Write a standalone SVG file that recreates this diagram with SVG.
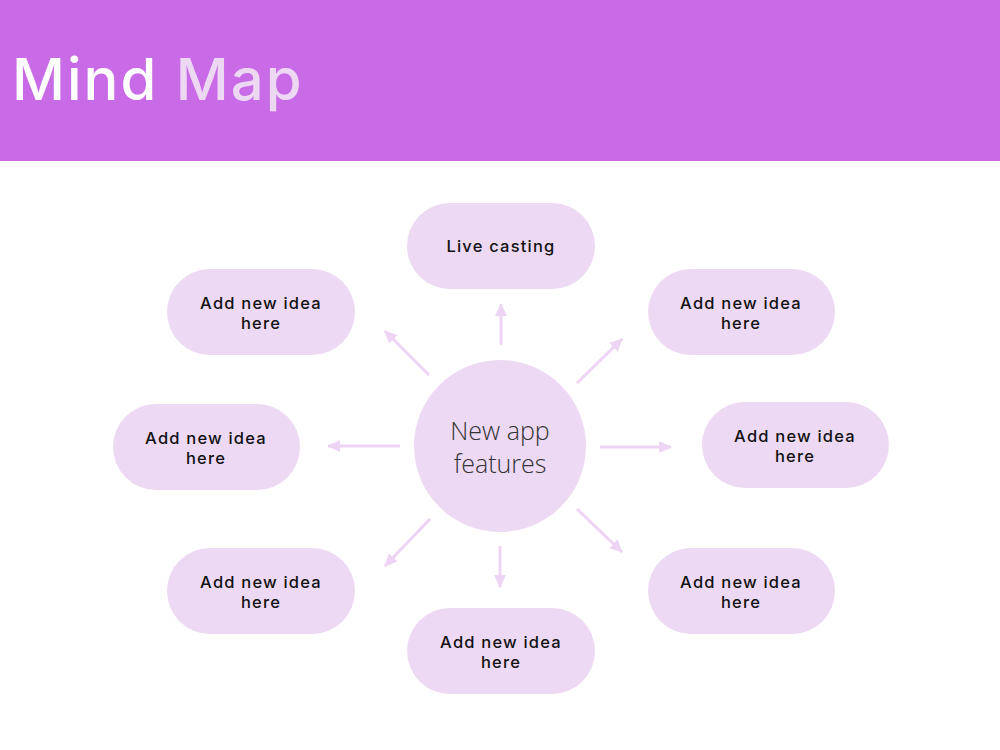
<svg xmlns="http://www.w3.org/2000/svg" width="1000" height="750" viewBox="0 0 1000 750">
<style>
.pill{fill:#EDD9F4}
.lbl{font-family:Inter,"Open Sans","Liberation Sans",sans-serif;font-size:16.5px;font-weight:500;fill:#111;text-anchor:middle;letter-spacing:1.2px}
.ctr{font-family:"Open Sans","Liberation Sans",sans-serif;font-size:25px;font-weight:300;fill:#333;text-anchor:middle}
.con{stroke:#EDD4F4;stroke-width:3;fill:none;marker-end:url(#ah)}
</style>
<defs>
<marker id="ah" markerUnits="userSpaceOnUse" markerWidth="14" markerHeight="14" refX="12" refY="7" orient="auto" viewBox="0 0 14 14">
<path d="M0,1 L13,7 L0,13 Z" fill="#EDD4F4"/>
</marker>
</defs>
<rect x="0" y="0" width="1000" height="161" fill="#C96BE6"/>
<text x="12" y="100" font-family="Inter,'Open Sans','Liberation Sans',sans-serif" font-size="58" font-weight="500" letter-spacing="2"><tspan fill="#FFFFFF">Mind </tspan><tspan fill="#EDD8F4">Map</tspan></text>
<g id="connectors">
<line class="con" x1="501" y1="345" x2="501" y2="304"/>
<line class="con" x1="429" y1="375" x2="385" y2="331"/>
<line class="con" x1="577" y1="383" x2="622" y2="339"/>
<line class="con" x1="400" y1="446" x2="328" y2="446"/>
<line class="con" x1="600" y1="447" x2="671" y2="447"/>
<line class="con" x1="430" y1="519" x2="385" y2="566"/>
<line class="con" x1="500" y1="546" x2="500" y2="587"/>
<line class="con" x1="577" y1="509" x2="622" y2="552"/>
</g>
<g id="center">
<circle class="pill" cx="500" cy="446" r="86"/>
<text class="ctr" x="500" y="440">New app</text>
<text class="ctr" x="500" y="473">features</text>
</g>
<g id="n-top">
<rect class="pill" x="407" y="203" width="188" height="86" rx="43"/>
<text class="lbl" x="501" y="252">Live casting</text>
</g>
<g id="n-topleft">
<rect class="pill" x="167" y="269" width="188" height="86" rx="43"/>
<text class="lbl" x="261" y="309">Add new idea</text>
<text class="lbl" x="261" y="329">here</text>
</g>
<g id="n-topright">
<rect class="pill" x="648" y="269" width="187" height="86" rx="43"/>
<text class="lbl" x="741" y="309">Add new idea</text>
<text class="lbl" x="741" y="329">here</text>
</g>
<g id="n-left">
<rect class="pill" x="113" y="404" width="187" height="86" rx="43"/>
<text class="lbl" x="206" y="444">Add new idea</text>
<text class="lbl" x="206" y="464">here</text>
</g>
<g id="n-right">
<rect class="pill" x="702" y="402" width="187" height="86" rx="43"/>
<text class="lbl" x="795" y="442">Add new idea</text>
<text class="lbl" x="795" y="462">here</text>
</g>
<g id="n-bottomleft">
<rect class="pill" x="167" y="548" width="188" height="86" rx="43"/>
<text class="lbl" x="261" y="588">Add new idea</text>
<text class="lbl" x="261" y="608">here</text>
</g>
<g id="n-bottomright">
<rect class="pill" x="648" y="548" width="187" height="86" rx="43"/>
<text class="lbl" x="741" y="588">Add new idea</text>
<text class="lbl" x="741" y="608">here</text>
</g>
<g id="n-bottom">
<rect class="pill" x="407" y="608" width="188" height="86" rx="43"/>
<text class="lbl" x="501" y="648">Add new idea</text>
<text class="lbl" x="501" y="668">here</text>
</g>
</svg>
